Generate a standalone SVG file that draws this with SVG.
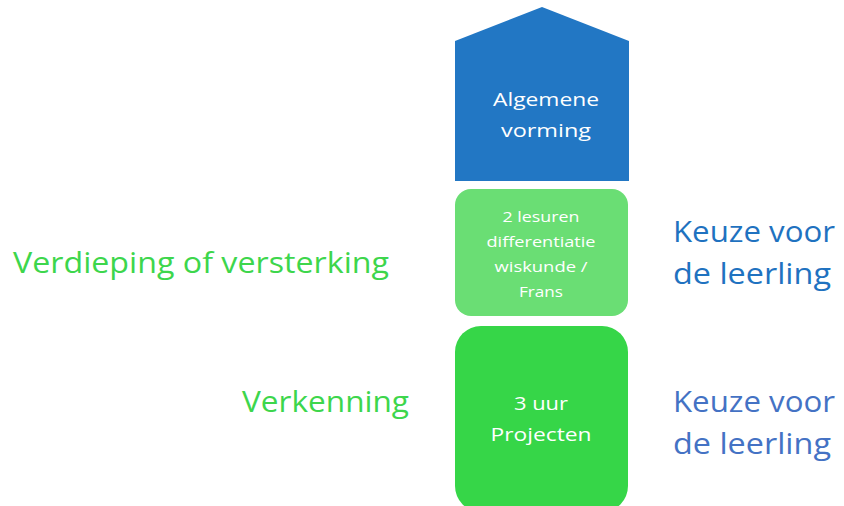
<svg xmlns="http://www.w3.org/2000/svg" width="844" height="506" viewBox="0 0 844 506">
<style>
text{font-family:"Open Sans","Noto Sans","Liberation Sans",sans-serif}
.w{fill:#ffffff;text-anchor:middle}
.big{font-size:30px}
.g{fill:#3dd64c}
.b1{fill:#1f72c0}
.b2{fill:#4472c4}
</style>
<rect width="844" height="506" fill="#ffffff"/>
<g id="algemene">
<polygon points="455,41 542,7 629,41 629,181 455,181" fill="#2277c4"/>
<text class="w" font-size="19" x="546" y="106" textLength="106" lengthAdjust="spacingAndGlyphs">Algemene</text>
<text class="w" font-size="19" x="546" y="137" textLength="90" lengthAdjust="spacingAndGlyphs">vorming</text>
</g>
<g id="differentiatie">
<rect x="455" y="189" width="173" height="127" rx="16" fill="#6ade74"/>
<text class="w" font-size="15" x="541" y="222" textLength="77" lengthAdjust="spacingAndGlyphs">2 lesuren</text>
<text class="w" font-size="15" x="541" y="247" textLength="109" lengthAdjust="spacingAndGlyphs">differentiatie</text>
<text class="w" font-size="15" x="541" y="272" textLength="93" lengthAdjust="spacingAndGlyphs">wiskunde /</text>
<text class="w" font-size="15" x="541" y="297" textLength="44" lengthAdjust="spacingAndGlyphs">Frans</text>
</g>
<g id="projecten">
<rect x="455" y="326" width="173" height="186" rx="26" fill="#36d648"/>
<text class="w" font-size="19" x="541" y="410" textLength="54" lengthAdjust="spacingAndGlyphs">3 uur</text>
<text class="w" font-size="19" x="541" y="441" textLength="101" lengthAdjust="spacingAndGlyphs">Projecten</text>
</g>
<g id="labels">
<text class="big g" x="13" y="273" textLength="376" lengthAdjust="spacingAndGlyphs">Verdieping of versterking</text>
<text class="big g" x="242" y="412" textLength="167" lengthAdjust="spacingAndGlyphs">Verkenning</text>
<text class="big b1" x="673" y="242" textLength="162" lengthAdjust="spacingAndGlyphs">Keuze voor</text>
<text class="big b1" x="673" y="284" textLength="158" lengthAdjust="spacingAndGlyphs">de leerling</text>
<text class="big b2" x="673" y="412" textLength="162" lengthAdjust="spacingAndGlyphs">Keuze voor</text>
<text class="big b2" x="673" y="454" textLength="158" lengthAdjust="spacingAndGlyphs">de leerling</text>
</g>
<g id="connectors"></g>
</svg>
